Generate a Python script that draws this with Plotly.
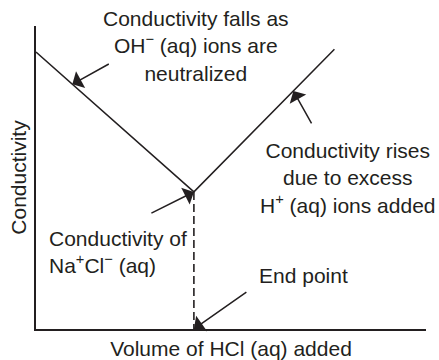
import plotly.graph_objects as go

# Conductometric titration of NaOH(aq) with HCl(aq)
volume_hcl = [0.0, 10.0, 18.9]          # volume of HCl added (arbitrary units)
conductivity = [10.0, 4.95, 10.1]       # conductivity (arbitrary units)
end_point_volume = 10.0
end_point_conductivity = 4.95

INK = "#231f20"
FONT = dict(family="Liberation Sans, Arial, Helvetica, sans-serif", size=21, color=INK)

fig = go.Figure()

# V-shaped conductivity curve
fig.add_trace(go.Scatter(
    x=volume_hcl, y=conductivity, mode="lines",
    line=dict(color=INK, width=1.5), hoverinfo="skip", showlegend=False,
))

# Dashed drop from the minimum to the volume axis (end point)
fig.add_trace(go.Scatter(
    x=[end_point_volume, end_point_volume], y=[end_point_conductivity, 0],
    mode="lines", line=dict(color=INK, width=1.6, dash="8px,4px"),
    hoverinfo="skip", showlegend=False,
))


def point_on_curve(v):
    """Conductivity on the titration curve at volume v."""
    for i in range(len(volume_hcl) - 1):
        x0, x1 = volume_hcl[i], volume_hcl[i + 1]
        if x0 <= v <= x1:
            y0, y1 = conductivity[i], conductivity[i + 1]
            return y0 + (y1 - y0) * (v - x0) / (x1 - x0)
    return conductivity[-1]


arrow_style = dict(showarrow=True, arrowhead=1, arrowsize=2.1, arrowwidth=1.5,
                   arrowcolor=INK, text="", standoff=0)

falling_v = 2.3
rising_v = 16.3
annotations = [
    dict(x=falling_v, y=point_on_curve(falling_v), ax=38, ay=-21, **arrow_style),
    dict(x=rising_v, y=point_on_curve(rising_v), ax=19, ay=34, **arrow_style),
    dict(x=end_point_volume, y=end_point_conductivity, ax=-44, ay=22, **arrow_style),
    dict(x=end_point_volume, y=0, ax=54, ay=-38, **arrow_style),
]

labels = [
    dict(text="Conductivity falls as<br>OH<sup>−</sup> (aq) ions are<br>neutralized",
         x=0.41, y=0.934, xanchor="center", yanchor="middle", align="center"),
    dict(text="Conductivity rises<br>due to excess<br>H<sup>+</sup> (aq) ions added",
         x=0.80, y=0.500, xanchor="center", yanchor="middle", align="center"),
    dict(text="Conductivity of<br>Na<sup>+</sup>Cl<sup>−</sup> (aq)",
         x=0.028, y=0.254, xanchor="left", yanchor="middle", align="left"),
    dict(text="End point",
         x=0.566, y=0.175, xanchor="left", yanchor="middle", align="left"),
]
for lab in labels:
    annotations.append(dict(xref="paper", yref="paper", showarrow=False, font=FONT, **lab))

fig.update_layout(
    width=439, height=360,
    margin=dict(l=36, r=13, t=26, b=31, autoexpand=False),
    paper_bgcolor="white", plot_bgcolor="white",
    font=FONT,
    annotations=annotations,
    xaxis=dict(
        range=[0, 24.7], showline=True, linecolor=INK, linewidth=2,
        showgrid=False, zeroline=False, showticklabels=False, ticks="",
        title=dict(text="Volume of HCl (aq) added", font=FONT, standoff=12),
        automargin=False, fixedrange=True,
    ),
    yaxis=dict(
        range=[0, 10.94], showline=True, linecolor=INK, linewidth=2,
        showgrid=False, zeroline=False, showticklabels=False, ticks="",
        title=dict(text="Conductivity", font=FONT, standoff=2),
        automargin=False, fixedrange=True,
    ),
)

fig.write_html("out.html")
